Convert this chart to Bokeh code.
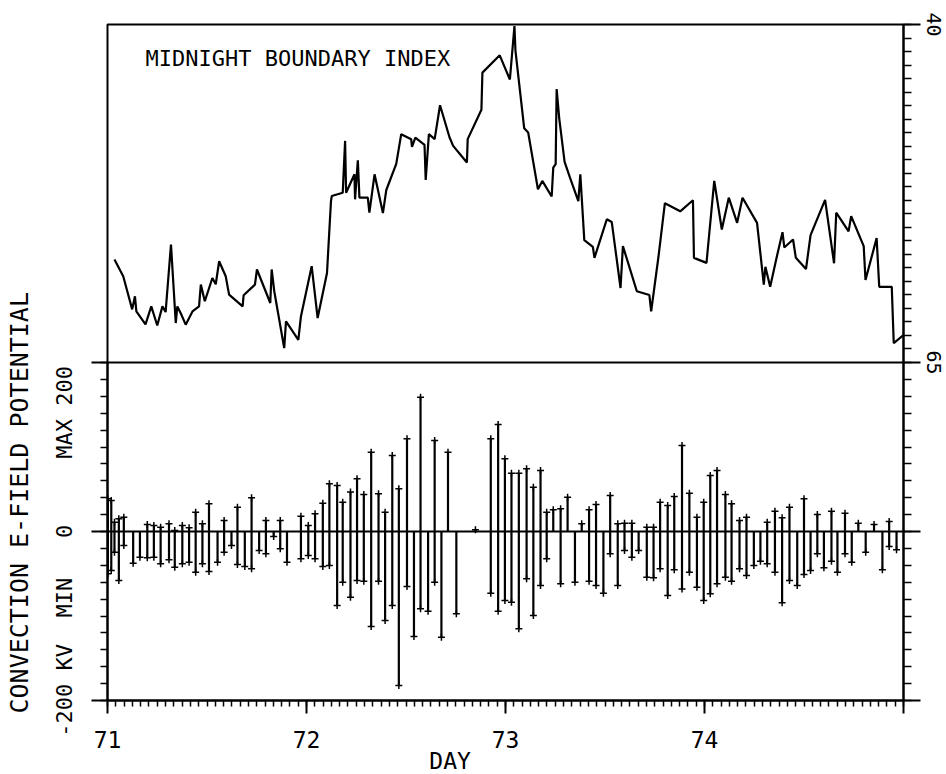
import numpy as np
from bokeh.plotting import figure
from bokeh.models import Range1d, LinearAxis, FixedTicker, Span, Label, Title
from bokeh.embed import file_html
from bokeh.resources import INLINE

# ---------------- data ----------------
# Midnight boundary index (degrees latitude), top panel
mbi_day = [71.035, 71.079, 71.124, 71.138, 71.145, 71.191, 71.220, 71.250, 71.276, 71.292,
           71.319, 71.343, 71.351, 71.368, 71.393, 71.427, 71.460, 71.469, 71.489, 71.527,
           71.544, 71.561, 71.594, 71.611, 71.679, 71.684, 71.741, 71.751, 71.818, 71.825,
           71.838, 71.888, 71.897, 71.959, 71.972, 72.026, 72.056, 72.103, 72.123, 72.127,
           72.182, 72.194, 72.199, 72.241, 72.244, 72.258, 72.266, 72.308, 72.316, 72.342,
           72.384, 72.401, 72.451, 72.476, 72.526, 72.530, 72.547, 72.593, 72.599, 72.615,
           72.644, 72.671, 72.719, 72.737, 72.806, 72.810, 72.879, 72.884, 72.971, 73.022,
           73.045, 73.050, 73.094, 73.114, 73.163, 73.185, 73.232, 73.240, 73.252, 73.257,
           73.270, 73.297, 73.324, 73.366, 73.376, 73.396, 73.439, 73.447, 73.509, 73.534,
           73.578, 73.590, 73.660, 73.723, 73.732, 73.769, 73.801, 73.878, 73.942, 73.947,
           74.010, 74.049, 74.087, 74.122, 74.164, 74.191, 74.264, 74.298, 74.306, 74.330,
           74.365, 74.392, 74.401, 74.445, 74.459, 74.510, 74.533, 74.606, 74.651, 74.662,
           74.724, 74.737, 74.800, 74.809, 74.865, 74.878, 74.941, 74.951, 75.000]
mbi_lat = [57.38, 58.62, 61.07, 60.10, 61.22, 62.18, 60.85, 62.26, 60.85, 61.27,
           56.27, 62.08, 60.85, 61.36, 62.20, 61.22, 60.85, 59.24, 60.47, 58.75,
           59.21, 57.51, 58.62, 59.98, 60.85, 60.03, 59.24, 58.12, 60.60, 58.12,
           59.73, 63.94, 61.96, 63.32, 61.59, 57.88, 61.71, 58.38, 53.06, 52.69,
           52.44, 48.61, 52.44, 51.08, 52.93, 50.04, 52.81, 52.81, 53.92, 51.08,
           53.95, 52.24, 50.31, 48.11, 48.48, 49.05, 48.36, 48.90, 51.50, 48.11,
           48.48, 45.97, 48.36, 48.98, 50.21, 48.48, 46.31, 43.56, 42.28, 44.07,
           40.11, 41.93, 47.68, 47.99, 52.19, 51.57, 52.72, 50.59, 50.33, 44.77,
           46.94, 50.16, 51.33, 53.06, 51.08, 55.95, 56.45, 57.26, 54.41, 54.61,
           59.49, 56.39, 59.73, 60.01, 61.22, 57.14, 53.22, 53.82, 53.00, 57.26,
           57.63, 51.57, 55.16, 52.81, 54.67, 52.81, 54.67, 59.24, 57.92, 59.40,
           57.06, 55.36, 56.49, 55.90, 57.26, 58.09, 55.58, 52.97, 57.66, 53.92,
           55.30, 54.17, 56.39, 58.90, 55.80, 59.40, 59.40, 63.57, 62.97]

# Convection E-field potential (kV): max and min for each pass, bottom panel
bar_day = [71.002, 71.019, 71.035, 71.057, 71.082, 71.129, 71.163, 71.200, 71.233, 71.267,
           71.309, 71.338, 71.376, 71.410, 71.443, 71.477, 71.510, 71.553, 71.586, 71.623,
           71.653, 71.690, 71.724, 71.762, 71.796, 71.835, 71.868, 71.902, 71.972, 72.009,
           72.043, 72.082, 72.115, 72.154, 72.182, 72.221, 72.254, 72.288, 72.325, 72.362,
           72.395, 72.431, 72.464, 72.505, 72.540, 72.573, 72.611, 72.644, 72.678, 72.711,
           72.753, 72.849, 72.926, 72.963, 72.997, 73.030, 73.067, 73.106, 73.140, 73.176,
           73.207, 73.240, 73.277, 73.312, 73.349, 73.383, 73.420, 73.455, 73.492, 73.526,
           73.564, 73.598, 73.635, 73.669, 73.710, 73.744, 73.777, 73.815, 73.848, 73.887,
           73.924, 73.962, 73.996, 74.029, 74.063, 74.105, 74.136, 74.176, 74.211, 74.248,
           74.281, 74.315, 74.354, 74.390, 74.427, 74.466, 74.500, 74.533, 74.567, 74.600,
           74.638, 74.668, 74.706, 74.740, 74.773, 74.810, 74.852, 74.894, 74.928, 74.965]
bar_max = [38.7, 36.7, 11.0, 15.0, 17.0, 0.0, 0.0, 8.3, 7.1, 5.1,
           9.1, 1.2, 7.1, 4.3, 22.9, 9.1, 32.7, 0.0, 13.0, 0.0,
           28.8, 0.0, 39.8, 0.0, 13.0, 0.0, 13.0, 0.0, 18.1, 7.1,
           20.9, 33.5, 56.4, 54.4, 34.7, 46.6, 62.3, 43.8, 93.9, 44.6,
           22.9, 89.9, 50.5, 109.7, 0.0, 159.0, 0.0, 107.7, 0.0, 93.9,
           0.0, 2.0, 109.7, 126.6, 86.0, 69.0, 69.0, 74.2, 52.5, 72.2,
           22.9, 25.6, 26.8, 40.6, 0.0, 9.1, 25.6, 32.0, 0.0, 42.6,
           9.1, 9.9, 9.9, 0.0, 5.1, 5.1, 34.7, 30.8, 41.4, 101.8,
           45.4, 17.0, 34.7, 66.3, 72.2, 43.8, 32.7, 13.0, 17.0, 0.0,
           0.0, 11.0, 24.1, 16.2, 28.8, 0.0, 38.7, 0.0, 20.1, 0.0,
           24.1, 0.0, 21.7, 0.0, 9.9, 0.0, 8.3, 0.0, 11.8, 0.0]
bar_min = [-50.1, -46.2, -24.5, -58.0, -16.6, -37.5, -30.4, -31.2, -30.4, -38.3,
           -33.5, -42.2, -38.3, -36.3, -48.1, -38.3, -47.3, -36.3, -24.5, -16.6,
           -39.1, -41.4, -44.2, -22.5, -26.4, -5.9, -20.5, -36.3, -32.3, -28.4,
           -32.3, -41.4, -40.2, -87.6, -60.0, -77.7, -58.0, -58.8, -112.4, -58.8,
           -105.3, -87.6, -182.3, -65.1, -124.3, -91.5, -94.3, -60.0, -125.1, 0.0,
           -97.4, 0.0, -73.0, -94.3, -81.7, -83.6, -115.2, -56.0, -99.4, -63.9,
           -32.3, 0.0, -61.9, 0.0, -60.0, 0.0, -58.8, -63.9, -73.0, -26.4,
           -63.9, -22.5, -30.4, -22.5, -54.0, -54.8, -44.2, -75.7, -45.4, -67.9,
           -48.1, -65.9, -81.7, -73.8, -61.9, -54.0, -58.8, -44.2, -52.1, -40.2,
           -35.1, -38.3, -48.1, -84.4, -58.0, -63.9, -50.9, -46.2, -26.4, -43.0,
           -35.1, -48.1, -26.4, -36.3, 0.0, -24.5, 0.0, -45.4, -17.8, -21.7]

day_ticks = [71, 72, 73, 74, 75]
kv_major = [-200, 0, 200]
lat_major = [40, 65]

# ---------------- layout ----------------
FONT = "DejaVu Sans Mono"
NB = "\u00a0"
CW, CH = 946, 774                            # canvas size
FL, FT, FW, FH = 107, 24, 796, 676           # frame left/top/width/height
DAY0, DAY1 = 71, 75
KV_LO, KV_HI = -200, 600                     # bottom half of frame: -200..200 kV
LAT_TOP, LAT_BOT = 40, 90                    # top half of frame: 40..65 deg


def kv_to_lat(v):
    return LAT_TOP + (KV_HI - v) * (LAT_BOT - LAT_TOP) / (KV_HI - KV_LO)


def px_day(px):
    return DAY0 + (px - FL) / FW * (DAY1 - DAY0)


def py_kv(py):
    return KV_LO + (FT + FH - py) / FH * (KV_HI - KV_LO)


p = figure(frame_width=FW, frame_height=FH, output_backend="svg", toolbar_location=None,
           x_range=Range1d(DAY0, DAY1), y_range=Range1d(KV_LO, KV_HI),
           x_axis_location=None, y_axis_location=None,
           min_border_left=FL, min_border_top=FT,
           min_border_right=CW - FL - FW, min_border_bottom=CH - FT - FH,
           background_fill_color="white", border_fill_color="white")
p.extra_y_ranges = {"lat": Range1d(LAT_BOT, LAT_TOP)}
p.outline_line_color = "black"
p.outline_line_width = 2
p.grid.visible = False


def style_axis(ax, major_out, minor_out):
    ax.axis_line_width = 2
    ax.axis_line_color = "black"
    ax.major_tick_line_width = 2
    ax.minor_tick_line_width = 1.5
    ax.major_tick_line_color = "black"
    ax.minor_tick_line_color = "black"
    ax.major_tick_in = 0
    ax.minor_tick_in = 0
    ax.major_tick_out = major_out
    ax.minor_tick_out = minor_out
    ax.major_label_text_font = FONT
    ax.axis_label_text_font = FONT
    ax.axis_label_text_font_style = "normal"
    ax.axis_label_text_color = "black"
    ax.major_label_text_color = "black"


# left axis: kV ticks only
left = LinearAxis(ticker=FixedTicker(ticks=kv_major, minor_ticks=list(range(-200, 201, 20))),
                  bounds=(-200, 200))
style_axis(left, 16, 7)
left.major_label_text_font_size = "0px"
left.major_label_text_color = None
left.major_label_standoff = 0
p.add_layout(left, "left")

# legend of the kV scale, read upward; "0" sits on the zero line (page y 531)
LEG_PX = 22
CH_W = 0.602 * LEG_PX                        # advance of one monospace character
legend_text = "-200" + NB + "KV" + NB * 2 + "MIN" + NB * 3 + "0" + NB * 5 + "MAX" + NB + "200"
zero_idx = legend_text.index("0" + NB * 5)
legend_offset = (FT + FH) - (531 + (zero_idx + 0.5) * CH_W)
p.add_layout(Title(text=legend_text, align="left", offset=legend_offset,
                   text_font=FONT, text_font_size=f"{LEG_PX}px", text_font_style="normal",
                   text_color="black", vertical_align="middle", standoff=28), "left")

# quantity title, outermost on the left
p.add_layout(Title(text="CONVECTION E-FIELD POTENTIAL", align="left", offset=-13,
                   text_font=FONT, text_font_size="25px", text_font_style="normal",
                   text_color="black", vertical_align="middle", standoff=3), "left")

# right axis: latitude labels 40 / 65 (top half) and kV ticks (bottom half)
r_major = lat_major + [kv_to_lat(v) for v in kv_major if v < 200]
r_minor = list(range(40, 66)) + [kv_to_lat(v) for v in range(-200, 201, 20)]
right = LinearAxis(y_range_name="lat", ticker=FixedTicker(ticks=r_major, minor_ticks=r_minor),
                   major_label_overrides={kv_to_lat(v): NB for v in kv_major if v < 200})
style_axis(right, 17, 8)
right.major_label_orientation = "vertical"
right.major_label_text_font_size = "20px"
right.major_label_standoff = 1
p.add_layout(right, "right")

# bottom axis: days
bottom = LinearAxis(ticker=FixedTicker(ticks=day_ticks,
                                       minor_ticks=[DAY0 + i / 24 for i in range(24 * 4 + 1)]),
                    major_label_overrides={75: NB}, axis_label="DAY" + NB * 8)
style_axis(bottom, 13, 6)
bottom.major_label_text_font_size = "23px"
bottom.major_label_standoff = 13
bottom.axis_label_text_font_size = "23px"
bottom.axis_label_standoff = -8
p.add_layout(bottom, "below")

# divider and zero line
p.add_layout(Span(location=200, dimension="width", line_color="black", line_width=2))
p.add_layout(Span(location=0, dimension="width", line_color="black", line_width=2))

# top panel line
p.line(mbi_day, mbi_lat, y_range_name="lat", line_color="black", line_width=2.2)

# bottom panel bars with end marks
p.segment(x0=bar_day, y0=bar_min, x1=bar_day, y1=bar_max, line_color="black", line_width=2.2)
top_d = [d for d, v in zip(bar_day, bar_max) if v != 0]
top_v = [v for v in bar_max if v != 0]
bot_d = [d for d, v in zip(bar_day, bar_min) if v != 0]
bot_v = [v for v in bar_min if v != 0]
p.scatter(top_d, top_v, marker="cross", size=7, line_color="black", line_width=1.5)
p.scatter(bot_d, bot_v, marker="cross", size=7, line_color="black", line_width=1.5)

# panel title inside the top frame
p.add_layout(Label(x=px_day(145), y=py_kv(58), text="MIDNIGHT BOUNDARY INDEX",
                   text_align="left", text_baseline="middle", text_font=FONT,
                   text_font_size="22px", text_color="black"))

open("out.html", "w").write(file_html(p, INLINE))
